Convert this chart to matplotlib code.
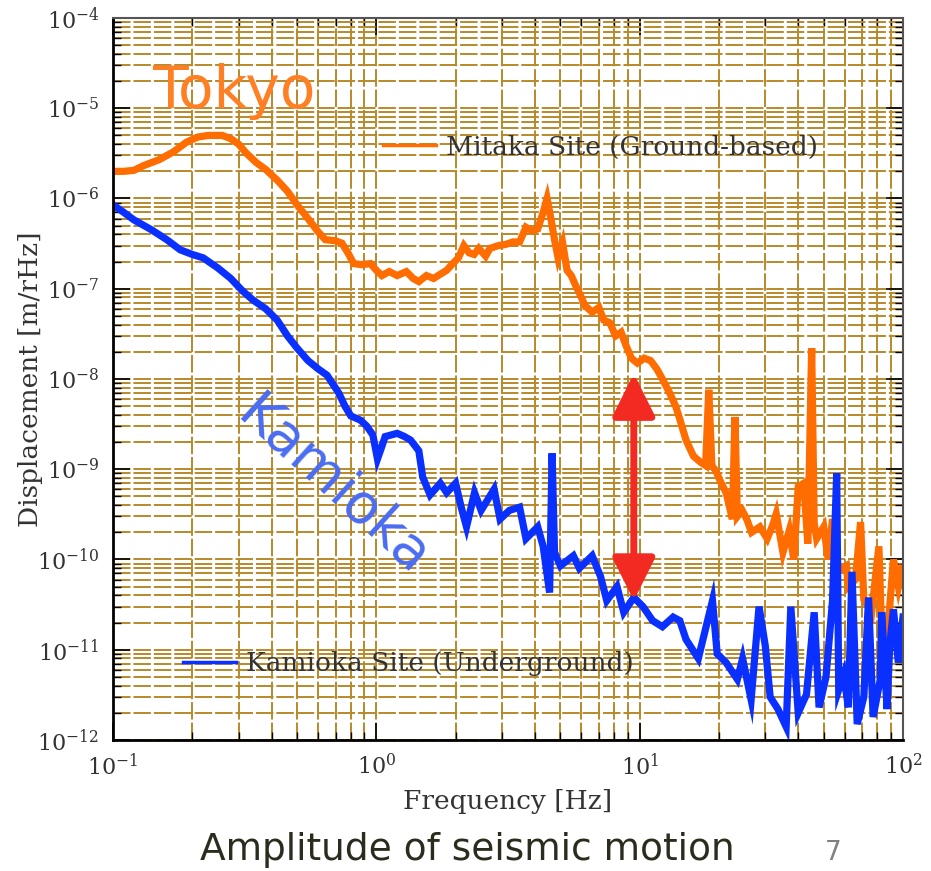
import matplotlib
matplotlib.use("Agg")
import matplotlib.pyplot as plt
from matplotlib.ticker import LogLocator, NullFormatter

# Mitaka site (ground-based)
mitaka_f = [0.10, 0.11, 0.12, 0.13, 0.15, 0.17, 0.19, 0.21, 0.23, 0.26, 0.28, 0.30, 0.32, 0.35,
            0.38, 0.42, 0.46, 0.50, 0.55, 0.60, 0.64, 0.70, 0.74, 0.78, 0.82, 0.88, 0.95, 1.0,
            1.05, 1.12, 1.2, 1.3, 1.38, 1.45, 1.55, 1.65, 1.75, 1.85, 1.95, 2.05, 2.15, 2.25,
            2.35, 2.45, 2.6, 2.7, 2.9, 3.1, 3.3, 3.5, 3.7, 3.9, 4.1, 4.3, 4.45, 4.6, 4.75, 4.9,
            5.1, 5.3, 5.5, 5.7, 5.9, 6.2, 6.6, 7.0, 7.3, 7.7, 8.1, 8.5, 8.9, 9.3, 9.8, 10.4,
            11.0, 11.6, 12.2, 13.0, 13.7, 14.2, 15.0, 16.0, 17.0, 17.8, 18.3, 18.8, 19.5, 20.4,
            21.3, 22.5, 23.0, 23.5, 24.5, 25.5, 26.6, 28.6, 30.5, 32.0, 33.0, 35.0, 37.0, 38.5,
            40.0, 42.0, 43.5, 45.0, 46.0, 47.0, 50.0, 52.0, 54.0, 57.0, 61.0, 62.0, 66.0, 69.0,
            71.0, 76.0, 81.0, 83.0, 87.0, 92.0, 96.0, 99.0]
mitaka_d = [2.0e-6, 2.0e-6, 2.05e-6, 2.3e-6, 2.7e-6, 3.3e-6, 4.2e-6, 4.8e-6, 5.0e-6, 5.0e-6,
            4.6e-6, 4.0e-6, 3.2e-6, 2.5e-6, 2.1e-6, 1.6e-6, 1.2e-6, 8.5e-7, 6.0e-7, 4.3e-7,
            3.5e-7, 3.4e-7, 3.2e-7, 2.5e-7, 1.9e-7, 1.85e-7, 1.9e-7, 1.6e-7, 1.4e-7, 1.55e-7,
            1.4e-7, 1.55e-7, 1.3e-7, 1.2e-7, 1.4e-7, 1.3e-7, 1.45e-7, 1.6e-7, 1.9e-7, 2.2e-7,
            3.0e-7, 2.5e-7, 2.4e-7, 2.8e-7, 2.3e-7, 2.8e-7, 3.0e-7, 3.1e-7, 3.3e-7, 3.3e-7,
            4.8e-7, 4.4e-7, 4.6e-7, 7.0e-7, 1.0e-6, 6.0e-7, 3.5e-7, 2.2e-7, 3.2e-7, 1.6e-7,
            1.4e-7, 1.1e-7, 9.0e-8, 6.5e-8, 5.5e-8, 6.2e-8, 4.5e-8, 4.2e-8, 3.0e-8, 3.3e-8,
            2.3e-8, 1.7e-8, 1.5e-8, 1.7e-8, 1.6e-8, 1.3e-8, 1.0e-8, 7.0e-9, 5.0e-9, 3.6e-9,
            2.1e-9, 1.4e-9, 1.2e-9, 1.1e-9, 7.6e-9, 1.1e-9, 9.5e-10, 7.0e-10, 5.5e-10, 2.8e-10,
            3.8e-9, 3.0e-10, 3.5e-10, 2.8e-10, 2.0e-10, 2.3e-10, 1.7e-10, 2.4e-10, 3.2e-10,
            1.2e-10, 2.1e-10, 1.0e-10, 6.4e-10, 7.0e-10, 1.5e-10, 2.2e-8, 2.5e-10, 1.7e-10,
            2.3e-10, 1.0e-10, 2.8e-10, 7.5e-11, 8.5e-11, 5.0e-11, 6.0e-11, 2.6e-10, 3.6e-11,
            2.6e-11, 1.4e-10, 1.5e-11, 1.3e-11, 1.0e-10, 5.0e-11, 8.0e-11]

# Kamioka site (underground)
kamioka_f = [0.10, 0.11, 0.12, 0.14, 0.16, 0.18, 0.20, 0.22, 0.25, 0.28, 0.31, 0.34, 0.38,
             0.42, 0.46, 0.50, 0.55, 0.60, 0.65, 0.68, 0.72, 0.76, 0.80, 0.87, 0.92, 0.97,
             1.01, 1.05, 1.08, 1.2, 1.28, 1.35, 1.45, 1.5, 1.6, 1.75, 1.85, 2.0, 2.1, 2.2,
             2.36, 2.5, 2.8, 2.95, 3.2, 3.5, 3.7, 4.1, 4.3, 4.55, 4.65, 4.75, 5.0, 5.6, 5.9,
             6.6, 7.1, 7.5, 8.2, 8.7, 9.5, 10.3, 11.2, 12.2, 13.4, 14.2, 15.0, 16.7, 17.5,
             18.9, 19.7, 21.3, 23.5, 24.6, 26.5, 28.4, 30.0, 31.3, 33.5, 36.0, 37.5, 40.0,
             43.0, 46.0, 48.0, 51.0, 54.0, 56.0, 57.0, 59.5, 62.0, 64.0, 67.0, 71.0, 74.0,
             77.0, 82.0, 83.0, 87.0, 89.0, 92.0, 96.0, 100.0]
kamioka_d = [8.5e-7, 7.0e-7, 5.8e-7, 4.5e-7, 3.5e-7, 2.7e-7, 2.4e-7, 2.2e-7, 1.7e-7, 1.3e-7,
             9.5e-8, 7.5e-8, 6.0e-8, 4.5e-8, 3.0e-8, 2.2e-8, 1.6e-8, 1.3e-8, 1.1e-8, 9.0e-9,
             7.0e-9, 5.0e-9, 3.9e-9, 3.5e-9, 3.0e-9, 2.4e-9, 1.3e-9, 1.8e-9, 2.3e-9, 2.5e-9,
             2.3e-9, 2.1e-9, 1.6e-9, 8.2e-10, 5.2e-10, 7.0e-10, 5.5e-10, 7.0e-10, 3.8e-10,
             2.3e-10, 5.5e-10, 3.5e-10, 6.0e-10, 2.8e-10, 3.5e-10, 3.8e-10, 1.7e-10, 2.3e-10,
             1.4e-10, 4.3e-11, 1.5e-9, 1.2e-10, 8.5e-11, 1.1e-10, 8.0e-11, 1.1e-10, 6.5e-11,
             3.5e-11, 5.0e-11, 2.6e-11, 3.8e-11, 3.0e-11, 2.1e-11, 1.8e-11, 2.3e-11, 2.1e-11,
             1.3e-11, 8.0e-12, 1.4e-11, 3.5e-11, 9.0e-12, 7.2e-12, 4.7e-12, 8.0e-12, 2.8e-12,
             3.0e-11, 1.1e-11, 3.0e-12, 2.2e-12, 1.4e-12, 3.0e-11, 2.0e-12, 3.2e-12, 2.6e-11,
             2.3e-12, 5.0e-12, 3.5e-11, 9.0e-10, 3.6e-12, 5.3e-12, 2.3e-12, 7.3e-11, 1.5e-12,
             3.0e-12, 3.8e-11, 1.8e-12, 4.7e-12, 2.6e-11, 2.2e-12, 1.1e-11, 2.8e-11, 7.2e-12,
             2.3e-11]

# the red double arrow at ~10 Hz
arrow_f = 9.5
arrow_lo, arrow_hi = 3.5e-11, 1.15e-8

plt.rcParams['font.family'] = ['DejaVu Serif']
plt.rcParams['mathtext.fontset'] = 'dejavuserif'
plt.rcParams['axes.unicode_minus'] = False

fig = plt.figure(figsize=(9.31, 8.71), dpi=100)
ax = fig.add_axes([113/931, 131/871, 790/931, 722/871])

l_mit, = ax.loglog(mitaka_f, mitaka_d, color='#ff6c00', lw=5.2, solid_joinstyle='miter')
l_kam, = ax.loglog(kamioka_f, kamioka_d, color='#0a30ff', lw=5.2, solid_joinstyle='miter')

ax.set_xlim(0.1, 100)
ax.set_ylim(1e-12, 1e-4)

ax.xaxis.set_major_locator(LogLocator(base=10, numticks=20))
ax.yaxis.set_major_locator(LogLocator(base=10, numticks=20))
ax.xaxis.set_minor_locator(LogLocator(base=10, subs=range(2, 10), numticks=20))
ax.yaxis.set_minor_locator(LogLocator(base=10, subs=range(2, 10), numticks=20))
ax.xaxis.set_minor_formatter(NullFormatter())
ax.yaxis.set_minor_formatter(NullFormatter())

ax.set_axisbelow(True)
ax.grid(which='both', color='#b8892a', lw=1.4, ls=(0, (9, 1.5)))

ax.tick_params(which='both', direction='in', top=True, right=True, colors='black',
               labelcolor='#333333', labelsize=16)
ax.tick_params(which='major', length=12, width=1.2, pad=10)
ax.tick_params(which='minor', length=6, width=1.0)
for side in ['left', 'bottom']:
    ax.spines[side].set_linewidth(2)
for side in ['top', 'right']:
    ax.spines[side].set_color('#555555')
    ax.spines[side].set_linewidth(1.5)

ax.set_xlabel('Frequency [Hz]', fontsize=19, color='#333333', labelpad=6)
ax.set_ylabel('Displacement [m/rHz]', fontsize=19, color='#333333')
ax.yaxis.set_label_coords(-0.088, 0.5)

ax.annotate('', xy=(arrow_f, arrow_hi), xytext=(arrow_f, arrow_lo),
            arrowprops=dict(arrowstyle='<|-|>,head_length=2.6,head_width=1.3',
                            color='#f22a22', lw=5, shrinkA=0, shrinkB=0,
                            mutation_scale=10))

# legends, placed separately like in the original
leg1 = ax.legend([l_mit], ['Mitaka Site (Ground-based)'], loc='center left',
                 bbox_to_anchor=(383/931, 1 - 147/871), bbox_transform=fig.transFigure,
                 frameon=False, fontsize=19, handlelength=2.0, handletextpad=0.4,
                 borderpad=0, borderaxespad=0, labelcolor='#333333')
leg1.get_lines()[0].set_linewidth(2.5)
ax.add_artist(leg1)
leg2 = ax.legend([l_kam], ['Kamioka Site (Underground)'], loc='center left',
                 bbox_to_anchor=(183/931, 1 - 664/871), bbox_transform=fig.transFigure,
                 frameon=False, fontsize=19, handlelength=2.0, handletextpad=0.4,
                 borderpad=0, borderaxespad=0, labelcolor='#333333')
leg2.get_lines()[0].set_linewidth(2.5)

fig.text(152/931, 1 - 108/871, 'Tokyo', color='#ff7f24', fontsize=42,
         family='DejaVu Sans', va='baseline', ha='left')
fig.text(333/931, 1 - 487/871, 'Kamioka', color='#4a6cf0', fontsize=40,
         family='DejaVu Sans', rotation=-42, rotation_mode='anchor',
         ha='center', va='center')

fig.text(467/931, 1 - 850/871, 'Amplitude of seismic motion', color='#2b2b1e',
         fontsize=27, family='DejaVu Sans', ha='center', va='center')
fig.text(833/931, 1 - 853/871, '7', color='#808080', fontsize=19,
         family='DejaVu Sans', ha='center', va='center')

fig.savefig('out.png', dpi=100)
